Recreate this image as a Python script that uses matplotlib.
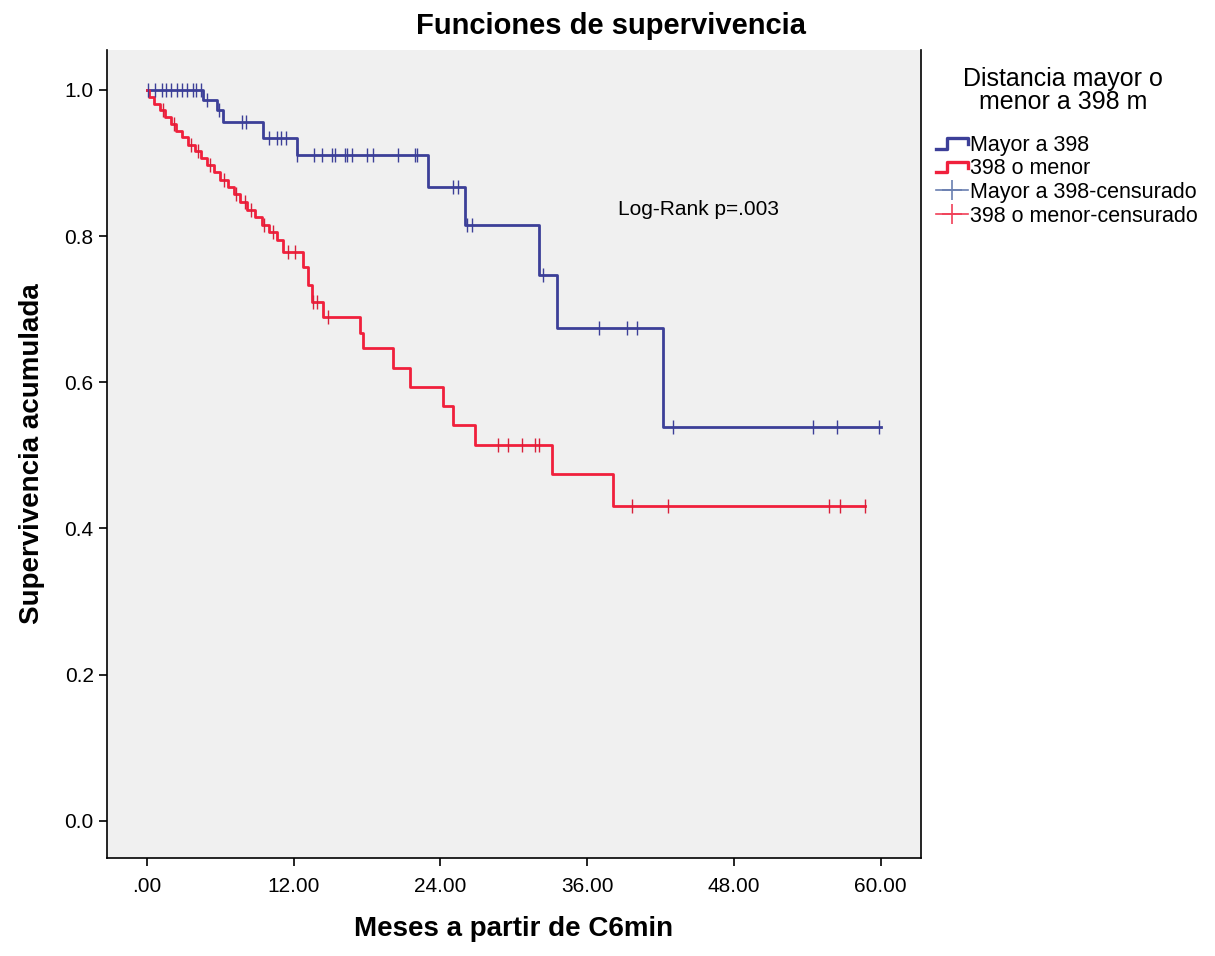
import matplotlib
matplotlib.use("Agg")
import matplotlib.pyplot as plt
from matplotlib.lines import Line2D
from matplotlib.legend_handler import HandlerBase

plt.rcParams["font.family"] = ["Liberation Sans", "DejaVu Sans"]

# Mayor a 398: event times and survival after each event
blue_t = [0.0, 4.6, 5.7, 6.2, 9.5, 12.3, 23.0, 26.0, 32.1, 33.5, 42.2]
blue_s = [1.0, 0.986, 0.973, 0.956, 0.934, 0.911, 0.867, 0.815, 0.747, 0.674, 0.539]
blue_end = 60.0
blue_cens = [0.1, 0.7, 1.2, 1.6, 2.0, 2.5, 2.9, 3.3, 3.8, 4.0, 4.4, 4.9, 5.9,
             7.8, 8.1, 10.0, 10.6, 11.0, 11.4, 12.3, 13.7, 14.3, 15.1, 15.4,
             16.2, 16.4, 16.8, 18.0, 18.5, 20.5, 21.9, 22.1, 25.0, 25.4,
             26.2, 26.6, 32.4, 37.0, 39.3, 40.1, 43.0, 54.5, 56.4, 59.9]

# 398 o menor
red_t = [0.0, 0.2, 0.6, 1.1, 1.5, 2.0, 2.4, 2.9, 3.4, 3.9, 4.4, 4.9, 5.5, 6.0,
         6.6, 7.1, 7.6, 8.2, 8.8, 9.4, 10.0, 10.6, 11.1, 12.8, 13.2, 13.5,
         14.4, 17.4, 17.7, 20.1, 21.5, 24.2, 25.0, 26.8, 33.1, 38.1]
red_s = [1.0, 0.990, 0.981, 0.972, 0.963, 0.953, 0.944, 0.935, 0.925, 0.916,
         0.907, 0.897, 0.887, 0.877, 0.867, 0.857, 0.846, 0.836, 0.826, 0.815,
         0.805, 0.795, 0.778, 0.757, 0.733, 0.710, 0.689, 0.668, 0.647, 0.620,
         0.593, 0.568, 0.541, 0.514, 0.475, 0.431]
red_end = 58.7
red_cens = [1.3, 2.2, 3.6, 4.2, 5.2, 6.3, 7.3, 8.0, 8.5, 9.6, 10.3, 11.5,
            12.1, 13.6, 13.9, 14.8, 28.7, 29.5, 30.7, 31.7, 32.1, 39.7,
            42.6, 55.8, 56.7, 58.7]

xticks = [0, 12, 24, 36, 48, 60]
xtick_labels = [".00", "12.00", "24.00", "36.00", "48.00", "60.00"]
yticks = [0.0, 0.2, 0.4, 0.6, 0.8, 1.0]

blue = "#3c3f98"
red = "#f0203c"


def surv_at(ts, ss, x):
    val = ss[0]
    for t, s in zip(ts, ss):
        if t <= x:
            val = s
    return val


class StepHandler(HandlerBase):
    def create_artists(self, legend, orig_handle, xdescent, ydescent,
                       width, height, fontsize, trans):
        x0, y0 = -xdescent, -ydescent
        xs = [x0, x0 + 0.35 * width, x0 + 0.35 * width, x0 + width, x0 + width]
        ys = [y0 + 0.15 * height, y0 + 0.15 * height, y0 + 0.85 * height,
              y0 + 0.85 * height, y0 + 0.45 * height]
        ln = Line2D(xs, ys, color=orig_handle.get_color(), lw=2.4,
                    transform=trans)
        return [ln]


fig = plt.figure(figsize=(12.15, 9.56), dpi=100)
ax = fig.add_axes([0.088, 0.1025, 0.67, 0.8455])
ax.set_facecolor("#f0f0f0")

ax.step(blue_t + [blue_end], blue_s + [blue_s[-1]], where="post",
        color=blue, lw=2.0)
ax.step(red_t + [red_end], red_s + [red_s[-1]], where="post",
        color=red, lw=2.0)

ax.plot(blue_cens, [surv_at(blue_t, blue_s, c) for c in blue_cens],
        ls="none", marker="|", ms=10, mew=1.0, color=blue)
ax.plot(red_cens, [surv_at(red_t, red_s, c) for c in red_cens],
        ls="none", marker="|", ms=10, mew=1.0, color="#d8203a")

ax.set_xlim(-3.27, 63.3)
ax.set_ylim(-0.051, 1.055)
ax.set_xticks(xticks)
ax.set_xticklabels(xtick_labels)
ax.set_yticks(yticks)
ax.set_yticklabels(["%.1f" % v for v in yticks])
ax.tick_params(direction="out", length=6, width=1.2, labelsize=15,
               colors="black")
ax.tick_params(axis="x", pad=8)

for side in ["left", "bottom", "right"]:
    ax.spines[side].set_linewidth(1.2)
ax.spines["top"].set_visible(False)

ax.set_xlabel("Meses a partir de C6min", fontsize=20, fontweight="bold",
              labelpad=14)
ax.set_ylabel("Supervivencia acumulada", fontsize=20, fontweight="bold",
              labelpad=14)
fig.text(0.503, 0.973, "Funciones de supervivencia", fontsize=21,
         fontweight="bold", ha="center", va="center")

ax.text(45.1, 0.837, "Log-Rank p=.003", fontsize=15, ha="center", va="center")

fig.text(0.875, 0.905, "Distancia mayor o\nmenor a 398 m", fontsize=18,
         ha="center", va="center", linespacing=0.95)

handles = [
    Line2D([], [], color=blue),
    Line2D([], [], color=red),
    Line2D([], [], color="#6a7fb0", lw=1.2, marker="+", ms=14, mew=1.2),
    Line2D([], [], color="#f04058", lw=1.2, marker="+", ms=14, mew=1.2),
]
labels = ["Mayor a 398", "398 o menor", "Mayor a 398-censurado",
          "398 o menor-censurado"]
leg = fig.legend(handles, labels, loc="upper left",
                 bbox_to_anchor=(0.770, 0.859),
                 fontsize=15.5, frameon=False, borderaxespad=0, borderpad=0,
                 handlelength=1.5, handletextpad=0.1, labelspacing=0.12,
                 handler_map={handles[0]: StepHandler(),
                              handles[1]: StepHandler()})

fig.savefig("out.png", dpi=100)
